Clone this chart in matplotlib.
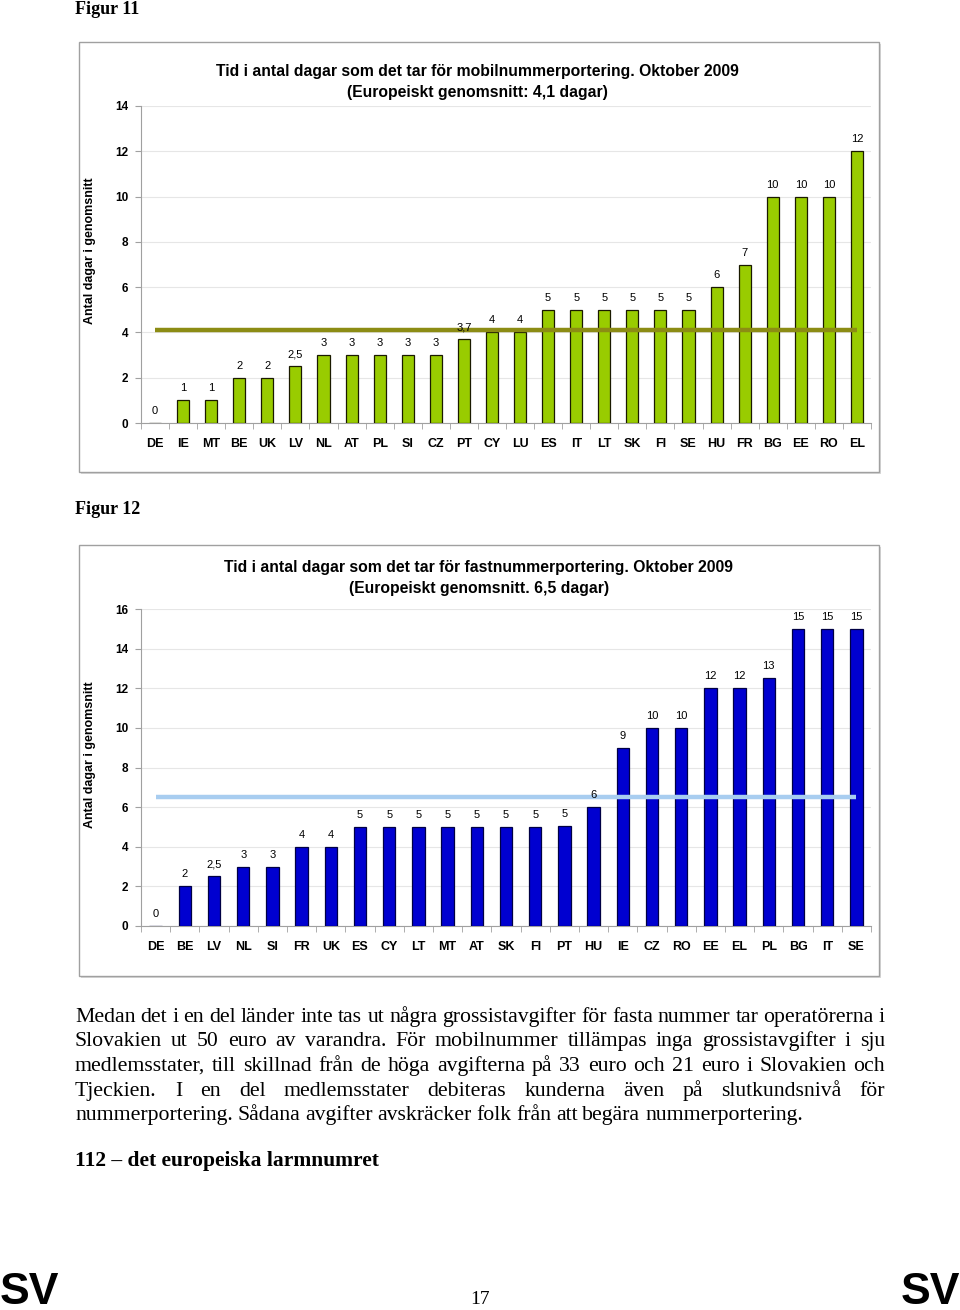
import matplotlib
matplotlib.use("Agg")
import matplotlib.pyplot as plt
from matplotlib.patches import Rectangle

# ---------------- data ----------------
mobile_countries = ["DE", "IE", "MT", "BE", "UK", "LV", "NL", "AT", "PL", "SI", "CZ", "PT", "CY",
                    "LU", "ES", "IT", "LT", "SK", "FI", "SE", "HU", "FR", "BG", "EE", "RO", "EL"]
mobile_values = [0, 1, 1, 2, 2, 2.5, 3, 3, 3, 3, 3, 3.7, 4, 4, 5, 5, 5, 5, 5, 5, 6, 7, 10, 10, 10, 12]
mobile_labels = ["0", "1", "1", "2", "2", "2,5", "3", "3", "3", "3", "3", "3,7", "4", "4",
                 "5", "5", "5", "5", "5", "5", "6", "7", "10", "10", "10", "12"]
mobile_avg = 4.1

fixed_countries = ["DE", "BE", "LV", "NL", "SI", "FR", "UK", "ES", "CY", "LT", "MT", "AT", "SK",
                   "FI", "PT", "HU", "IE", "CZ", "RO", "EE", "EL", "PL", "BG", "IT", "SE"]
fixed_values = [0, 2, 2.5, 3, 3, 4, 4, 5, 5, 5, 5, 5, 5, 5, 5.05, 6, 9, 10, 10, 12, 12, 12.5, 15, 15, 15]
fixed_labels = ["0", "2", "2,5", "3", "3", "4", "4", "5", "5", "5", "5", "5", "5", "5", "5",
                "6", "9", "10", "10", "12", "12", "13", "15", "15", "15"]
fixed_avg = 6.5

title1 = "Tid i antal dagar som det tar för mobilnummerportering. Oktober 2009\n(Europeiskt genomsnitt: 4,1 dagar)"
title2 = "Tid i antal dagar som det tar för fastnummerportering. Oktober 2009\n(Europeiskt genomsnitt. 6,5 dagar)"
ylabel = "Antal dagar i genomsnitt"

body_lines = [
    "Medan det i en del länder inte tas ut några grossistavgifter för fasta nummer tar operatörerna i",
    "Slovakien ut 50 euro av varandra. För mobilnummer tillämpas inga grossistavgifter i sju",
    "medlemsstater, till skillnad från de höga avgifterna på 33 euro och 21 euro i Slovakien och",
    "Tjeckien. I en del medlemsstater debiteras kunderna även på slutkundsnivå för",
    "nummerportering. Sådana avgifter avskräcker folk från att begära nummerportering.",
]
heading = "112 – det europeiska larmnumret"

# ---------------- figure ----------------
W, H = 960, 1310
fig = plt.figure(figsize=(W / 100, H / 100), dpi=100)
fig.patch.set_facecolor("white")

SANS = ["Liberation Sans", "DejaVu Sans"]
SERIF = ["Liberation Serif", "DejaVu Serif"]


def fx(x):
    return x / W


def fy(y):
    return 1 - y / H


def frame(x0, y0, x1, y1):
    fig.patches.append(Rectangle((fx(x0 + 2), fy(y1 + 2)), fx(x1 - x0), (y1 - y0) / H,
                                 transform=fig.transFigure, facecolor="#d8d8d8",
                                 edgecolor="none", zorder=-2))
    fig.patches.append(Rectangle((fx(x0), fy(y1)), fx(x1 - x0), (y1 - y0) / H,
                                 transform=fig.transFigure, facecolor="white",
                                 edgecolor="#a0a0a0", linewidth=1.0, zorder=-1))


def chart(ax_box, countries, values, labels, avg, ymax, color, edge, avgcolor, title, title_xy,
          ylabel_y):
    left, top, right, bottom = ax_box
    ax = fig.add_axes([fx(left), fy(bottom), fx(right - left), (bottom - top) / H])
    ax.set_zorder(2)
    ax.set_facecolor("none")
    x = list(range(len(countries)))
    ax.bar(x, values, width=0.43, color=color, edgecolor=edge, linewidth=0.9, zorder=3)
    ax.plot([0, len(countries) - 1], [avg, avg], color=avgcolor, linewidth=3.2, zorder=4,
            solid_capstyle="butt")
    for xi, v, lab in zip(x, values, labels):
        ax.annotate(lab, (xi, v), xytext=(0, 5), textcoords="offset points", ha="center",
                    va="bottom", fontsize=8, family=SANS, zorder=5)
    ax.set_xlim(-0.5, len(countries) - 0.5)
    ax.set_ylim(0, ymax)
    ax.set_yticks(range(0, ymax + 1, 2))
    ax.set_yticklabels([str(t) for t in range(0, ymax + 1, 2)], fontsize=8.5,
                       fontweight="bold", family=SANS)
    ax.set_xticks(x)
    ax.set_xticklabels(countries, fontsize=9, fontweight="bold", family=SANS)
    ax.set_xticks([i - 0.5 for i in range(len(countries) + 1)], minor=True)
    ax.tick_params(axis="x", which="major", length=0, pad=11)
    ax.tick_params(axis="x", which="minor", length=4, color="#a0a0a0", direction="out")
    ax.tick_params(axis="y", which="major", length=4, color="#a0a0a0", pad=5)
    ax.grid(axis="y", color="#e6e6e6", linewidth=0.8, zorder=0)
    ax.set_axisbelow(True)
    for s in ["top", "right"]:
        ax.spines[s].set_visible(False)
    ax.spines["left"].set_color("#a0a0a0")
    ax.spines["bottom"].set_color("#a0a0a0")
    ax.set_ylabel(ylabel, fontsize=9, fontweight="bold", family=SANS)
    ax.yaxis.set_label_coords((96 - left) / (right - left), (bottom - ylabel_y) / (bottom - top))
    fig.text(fx(title_xy[0]), fy(title_xy[1]), title, ha="center", va="center",
             fontsize=11.3, fontweight="bold", family=SANS, linespacing=1.42)
    return ax


# Figure 11
fig.text(fx(75), fy(9), "Figur 11", ha="left", va="center", fontsize=13,
         fontweight="bold", family=SERIF)
frame(79, 42, 879, 472)
chart((141, 106, 871, 423), mobile_countries, mobile_values, mobile_labels, mobile_avg, 14,
      "#99cc00", "#1a1a00", "#8c8c14", title1, (477, 82), 251)

# Figure 12
fig.text(fx(75), fy(510), "Figur 12", ha="left", va="center", fontsize=13,
         fontweight="bold", family=SERIF)
frame(79, 545, 879, 976)
chart((141, 609, 871, 926), fixed_countries, fixed_values, fixed_labels, fixed_avg, 16,
      "#0000d0", "#000044", "#a8cdf0", title2, (479, 578), 755)

# ---------------- body text (justified) ----------------
renderer = fig.canvas.get_renderer()
X0, X1 = 75, 885
probe = fig.text(0, 0, body_lines[0], fontsize=14, family=SERIF)
w0 = probe.get_window_extent(renderer).width
probe.remove()
body_fs = 14 * (X1 - X0) / w0 * 1.01

baseline_y = [1022, 1046, 1071, 1096, 1120]
for i, (line, yy) in enumerate(zip(body_lines, baseline_y)):
    words = line.split(" ")
    ts = [fig.text(0, fy(yy), w_, ha="left", va="baseline", fontsize=body_fs, family=SERIF)
          for w_ in words]
    widths = [t.get_window_extent(renderer).width for t in ts]
    if i == len(body_lines) - 1:
        gap = body_fs * 100 / 72 * 0.22
    else:
        gap = (X1 - X0 - sum(widths)) / (len(words) - 1)
    xpos = X0
    for t, wd in zip(ts, widths):
        t.set_x(fx(xpos))
        xpos += wd + gap

fig.text(fx(75), fy(1166), heading, ha="left", va="baseline", fontsize=15.5,
         fontweight="bold", family=SERIF)

# footer
fig.text(fx(0), fy(1292), "SV", ha="left", va="center", fontsize=32, fontweight="bold",
         family=SANS)
fig.text(fx(960), fy(1292), "SV", ha="right", va="center", fontsize=32, fontweight="bold",
         family=SANS)
fig.text(fx(480), fy(1300), "17", ha="center", va="center", fontsize=14, family=SERIF)

fig.savefig("out.png", dpi=100, facecolor="white")
